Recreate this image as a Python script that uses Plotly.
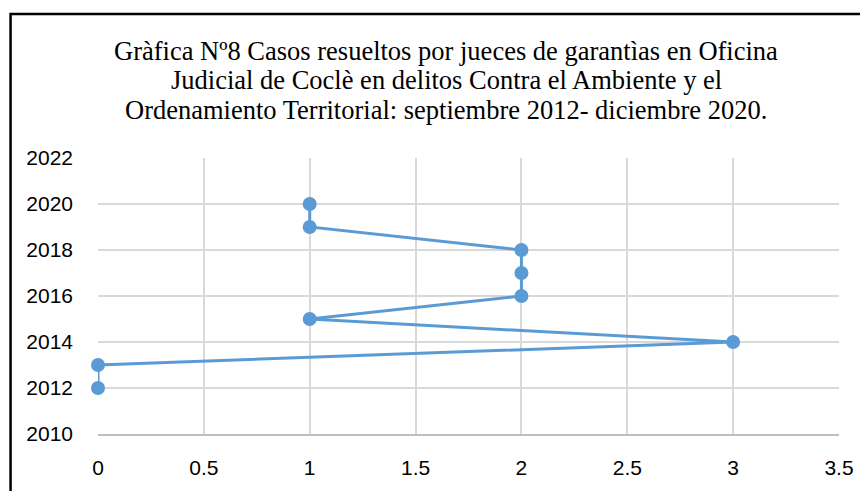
"""Gràfica Nº8: casos resueltos por jueces de garantías (Coclé, Ambiente)."""

import plotly.graph_objects as go

# casos resueltos (x) por año (y)
years = [2012, 2013, 2014, 2015, 2016, 2017, 2018, 2019, 2020]
cases = [0, 0, 3, 1, 2, 2, 2, 1, 1]

TITLE_LINES = [
    "Gràfica Nº8 Casos resueltos por jueces de garantìas en Oficina",
    "Judicial de Coclè en delitos Contra el Ambiente y el",
    "Ordenamiento Territorial: septiembre 2012- diciembre 2020.",
]

COLOR_LINE = "#5b9bd5"
GRID = "#d9d9d9"

fig = go.Figure()

fig.add_trace(
    go.Scatter(
        x=cases,
        y=years,
        mode="lines+markers",
        line=dict(color=COLOR_LINE, width=3),
        marker=dict(color=COLOR_LINE, size=14),
        cliponaxis=False,
        showlegend=False,
    )
)

# title as three separate lines (tighter line spacing than plotly's <br>)
title_y = [1.388, 1.281, 1.173]
for line, y in zip(TITLE_LINES, title_y):
    fig.add_annotation(
        text=line,
        xref="paper",
        yref="paper",
        x=0.470,
        y=y,
        xanchor="center",
        yanchor="middle",
        showarrow=False,
        font=dict(family="Liberation Serif", size=26.5, color="#000"),
    )

fig.update_layout(
    width=860,
    height=483,
    font=dict(family="Liberation Sans", size=21, color="#000"),
    margin=dict(l=90, r=29, t=150, b=55),
    plot_bgcolor="white",
    paper_bgcolor="white",
    # outer chart frame, partly cut off at right and bottom
    shapes=[
        dict(
            type="rect",
            xref="paper",
            yref="paper",
            x0=-0.118,
            x1=1.2,
            y0=-0.4,
            y1=1.522,
            line=dict(color="#000", width=2.5),
        )
    ],
)

fig.update_xaxes(
    range=[0, 3.5],
    dtick=0.5,
    showgrid=True,
    gridcolor=GRID,
    gridwidth=1.5,
    zeroline=False,
    showline=True,
    linecolor="#bfbfbf",
    linewidth=1.5,
    ticks="",
    ticklabelstandoff=14,
)
fig.update_yaxes(
    range=[2010, 2022],
    dtick=2,
    showgrid=True,
    gridcolor=GRID,
    gridwidth=1.5,
    zeroline=False,
    showline=False,
    ticks="",
    ticklabelstandoff=24,
)

fig.write_html("out.html")
